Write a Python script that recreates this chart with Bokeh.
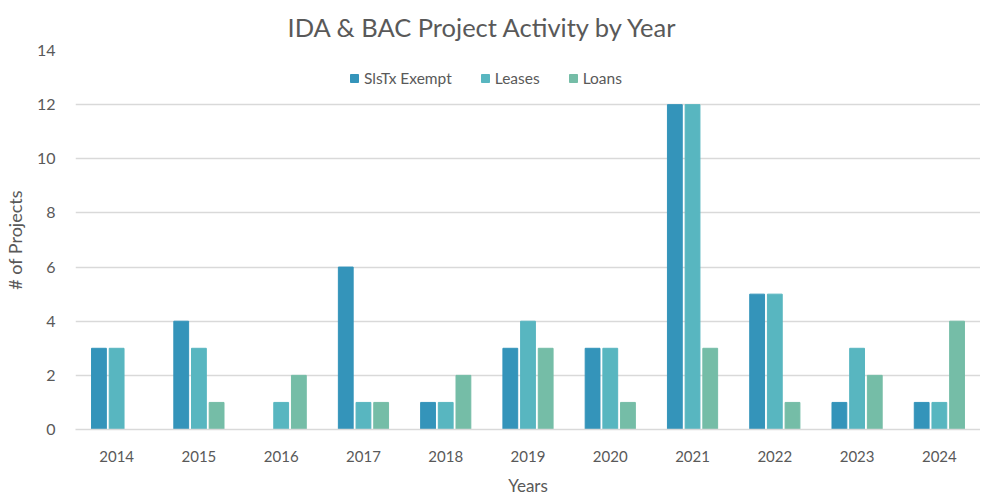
from bokeh.plotting import figure
from bokeh.models import ColumnDataSource, FactorRange, Range1d, Legend, LegendItem, SingleIntervalTicker, Title
from bokeh.transform import dodge
from bokeh.embed import file_html
from bokeh.resources import INLINE

years = ["2014", "2015", "2016", "2017", "2018", "2019", "2020", "2021", "2022", "2023", "2024"]
sls_tx_exempt = [3, 4, 0, 6, 1, 3, 3, 12, 5, 1, 1]
leases = [3, 3, 1, 1, 1, 4, 3, 12, 5, 3, 1]
loans = [0, 1, 2, 1, 2, 3, 1, 3, 1, 2, 4]
series_names = ["SlsTx Exempt", "Leases", "Loans"]
colors = ["#3494BA", "#58B6C0", "#75BDA7"]

FONT = "Lato"
GREY = "#595959"

src = ColumnDataSource(dict(year=years, a=sls_tx_exempt, b=leases, c=loans))

p = figure(width=980, height=504, x_range=FactorRange(*years), y_range=Range1d(0, 14),
           output_backend="svg", toolbar_location=None,
           min_border_left=66, min_border_right=0, min_border_top=50, min_border_bottom=75)

p.title.text = "IDA & BAC Project Activity by Year"
p.title.align = "left"
p.title.offset = 212
p.title.text_font = FONT
p.title.text_font_size = "25.5px"
p.title.text_font_style = "normal"
p.title.text_color = GREY
p.title.standoff = 18

rs = []
for i, (col, name, c) in enumerate(zip(["a", "b", "c"], series_names, colors)):
    r = p.vbar(x=dodge("year", (i - 1) * 0.215, range=p.x_range), top=col, width=0.18,
               source=src, fill_color=c, line_color=c)
    rs.append(r)

legend = Legend(items=[LegendItem(label=n, renderers=[r]) for n, r in zip(series_names, rs)],
                orientation="horizontal", location=(274, 342))
legend.border_line_color = None
legend.background_fill_alpha = 0
legend.label_text_font = FONT
legend.label_text_font_size = "15.5px"
legend.label_text_color = GREY
legend.glyph_width = 10
legend.glyph_height = 10
legend.spacing = 28
legend.label_standoff = 5
legend.padding = 2
legend.margin = 0
p.add_layout(legend)

p.outline_line_color = None
p.xgrid.grid_line_color = None
p.ygrid.grid_line_color = "#D9D9D9"
p.ygrid.grid_line_width = 1.3
p.yaxis.ticker = SingleIntervalTicker(interval=2)

for ax in (p.xaxis, p.yaxis):
    ax.major_label_text_font = FONT
    ax.major_label_text_color = GREY
    ax.axis_label_text_font = FONT
    ax.axis_label_text_color = GREY
    ax.axis_label_text_font_style = "normal"
    ax.major_tick_line_color = None
    ax.minor_tick_line_color = None

p.xaxis.major_label_text_font_size = "15px"
p.yaxis.major_label_text_font_size = "16px"
p.yaxis.axis_label_text_font_size = "18px"

p.yaxis.axis_line_color = None
p.xaxis.axis_line_color = "#D9D9D9"
p.xaxis.axis_line_width = 1.3
p.yaxis.axis_label = "# of Projects"
p.xaxis.major_label_standoff = 15
p.yaxis.major_label_standoff = 14
p.yaxis.axis_label_standoff = 8
p.x_range.range_padding = 0
p.x_range.group_padding = 0

xlabel = Title(text="Years", align="center", text_font=FONT, text_font_size="17px",
               text_color=GREY, text_font_style="normal", standoff=17)
p.add_layout(xlabel, "below")

open("out.html", "w").write(file_html(p, INLINE))
